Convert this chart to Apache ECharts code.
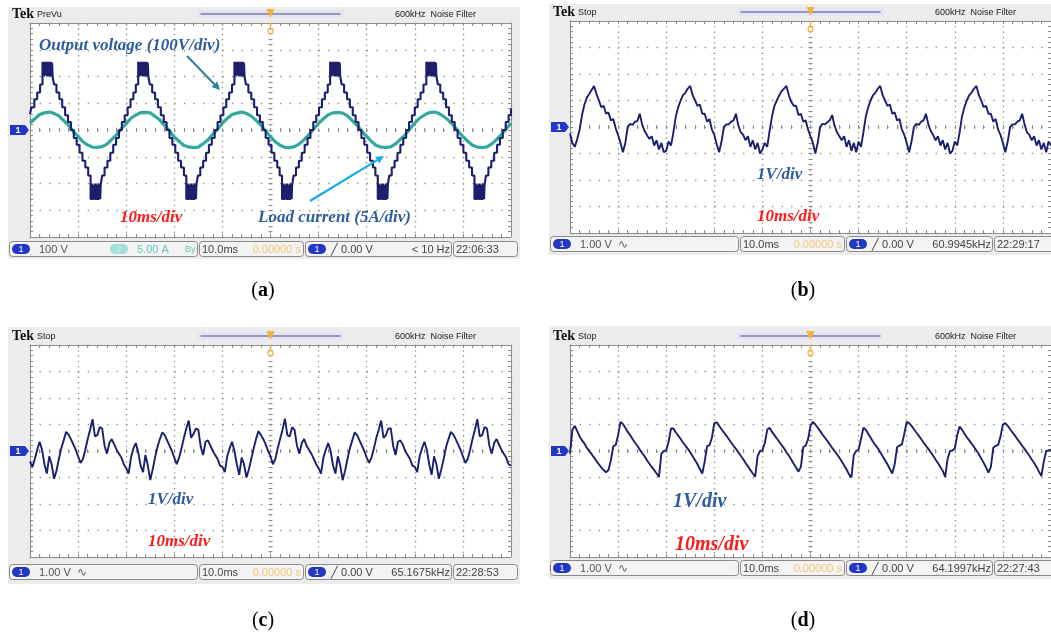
<!DOCTYPE html>
<html><head><meta charset="utf-8">
<script src="https://cdn.jsdelivr.net/npm/echarts@6/dist/echarts.min.js"></script>
<style>html,body{margin:0;padding:0;background:#fff}#c{width:1051px;height:636px}</style>
</head><body><div id="c"></div>
<script>
// ---------- DATA ----------
// (a) output voltage [time ms, volts] staircase (step), 100 V/div
const voltageA = [
[0,60],[0.3,85],[0.9,115],[1.5,140],[2.1,170],
[2.6,255],[2.7,200],[2.8,255],[2.9,200],[3.0,255],[3.1,205],[3.2,255],[3.3,205],[3.4,255],[3.5,200],[3.6,255],[3.7,200],[3.8,250],[3.9,200],[4.0,255],[4.1,200],[4.2,255],[4.3,200],[4.4,255],[4.5,200],[4.6,250],[4.7,200],
[5.0,170],[5.5,140],[6.1,115],[6.7,85],[7.3,55],[7.9,30],[8.5,0],[9.1,-30],[9.7,-55],[10.3,-85],[10.9,-115],[11.5,-140],[12.1,-170],
[12.6,-260],[12.7,-200],[12.8,-262],[12.9,-200],[13.0,-262],[13.1,-205],[13.2,-260],[13.3,-205],[13.4,-260],[13.5,-200],[13.6,-262],[13.7,-200],[13.8,-260],[13.9,-205],[14.0,-262],[14.1,-205],[14.2,-262],[14.3,-200],[14.4,-260],[14.5,-200],[14.6,-258],[14.7,-205],
[15.0,-170],[15.5,-140],[16.1,-115],[16.7,-85],[17.3,-55],[17.9,-30],[18.5,0],[19.1,30],[19.7,55],[20.3,85],[20.9,115],[21.5,140],[22.0,170],
[22.5,255],[22.6,200],[22.7,255],[22.8,200],[22.9,255],[23.0,205],[23.1,255],[23.2,205],[23.3,255],[23.4,200],[23.5,255],[23.6,200],[23.7,250],[23.8,200],[23.9,255],[24.0,200],[24.1,255],[24.2,200],[24.3,255],[24.4,200],[24.5,250],[24.6,200],
[24.9,170],[25.4,140],[26.0,115],[26.6,85],[27.2,55],[27.8,30],[28.4,0],[29.0,-30],[29.6,-55],[30.2,-85],[30.8,-115],[31.4,-140],[32.0,-170],
[32.5,-260],[32.6,-200],[32.7,-262],[32.8,-200],[32.9,-262],[33.0,-205],[33.1,-260],[33.2,-205],[33.3,-260],[33.4,-200],[33.5,-262],[33.6,-200],[33.7,-260],[33.8,-205],[33.9,-262],[34.0,-205],[34.1,-262],[34.2,-200],[34.3,-260],[34.4,-200],[34.5,-258],[34.6,-205],
[34.9,-170],[35.4,-140],[36.0,-115],[36.6,-85],[37.2,-55],[37.8,-30],[38.4,0],[39.0,30],[39.6,55],[40.2,85],[40.8,115],[41.4,140],[42.0,170],
[42.5,255],[42.6,200],[42.7,255],[42.8,200],[42.9,255],[43.0,205],[43.1,255],[43.2,205],[43.3,255],[43.4,200],[43.5,255],[43.6,200],[43.7,250],[43.8,200],[43.9,255],[44.0,200],[44.1,255],[44.2,200],[44.3,255],[44.4,200],[44.5,250],[44.6,200],
[44.9,170],[45.4,140],[46.0,115],[46.6,85],[47.2,55],[47.8,30],[48.4,0],[49.0,-30],[49.6,-55],[50.2,-85],[50.8,-115],[51.4,-140],[51.9,-170],
[52.4,-260],[52.5,-200],[52.6,-262],[52.7,-200],[52.8,-262],[52.9,-205],[53.0,-260],[53.1,-205],[53.2,-260],[53.3,-200],[53.4,-262],[53.5,-200],[53.6,-260],[53.7,-205],[53.8,-262],[53.9,-205],[54.0,-262],[54.1,-200],[54.2,-260],[54.3,-200],[54.4,-258],[54.5,-205],
[54.8,-170],[55.3,-140],[55.9,-115],[56.5,-85],[57.1,-55],[57.7,-30],[58.3,0],[58.9,30],[59.5,55],[60.1,85],[60.7,115],[61.3,140],[61.9,170],
[62.4,255],[62.5,200],[62.6,255],[62.7,200],[62.8,255],[62.9,205],[63.0,255],[63.1,205],[63.2,255],[63.3,200],[63.4,255],[63.5,200],[63.6,250],[63.7,200],[63.8,255],[63.9,200],[64.0,255],[64.1,200],[64.2,255],[64.3,200],[64.4,250],[64.5,200],
[64.8,170],[65.3,140],[65.9,115],[66.5,85],[67.1,55],[67.7,30],[68.3,0],[68.9,-30],[69.5,-55],[70.1,-85],[70.7,-115],[71.3,-140],[71.8,-170],
[72.3,-260],[72.4,-200],[72.5,-262],[72.6,-200],[72.7,-262],[72.8,-205],[72.9,-260],[73.0,-205],[73.1,-260],[73.2,-200],[73.3,-262],[73.4,-200],[73.5,-260],[73.6,-205],[73.7,-262],[73.8,-205],[73.9,-262],[74.0,-200],[74.1,-260],[74.2,-200],[74.3,-258],[74.4,-205],
[74.7,-170],[75.2,-140],[75.8,-115],[76.4,-85],[77.0,-55],[77.6,-30],[78.2,0],[78.8,30],[79.4,55],[80.0,85],[80.6,115],[81.2,140],[81.8,170],
[82.4,255],[82.5,200],[82.6,255],[82.7,200],[82.8,255],[82.9,205],[83.0,255],[83.1,205],[83.2,255],[83.3,200],[83.4,255],[83.5,200],[83.6,250],[83.7,200],[83.8,255],[83.9,200],[84.0,255],[84.1,200],[84.2,255],[84.3,200],[84.4,250],[84.5,200],
[84.8,170],[85.3,140],[85.9,115],[86.5,85],[87.1,55],[87.7,30],[88.3,0],[88.9,-30],[89.5,-55],[90.1,-85],[90.7,-115],[91.3,-140],[91.9,-170],
[92.4,-260],[92.5,-200],[92.6,-262],[92.7,-200],[92.8,-262],[92.9,-205],[93.0,-260],[93.1,-205],[93.2,-260],[93.3,-200],[93.4,-262],[93.5,-200],[93.6,-260],[93.7,-205],[93.8,-262],[93.9,-205],[94.0,-262],[94.1,-200],[94.2,-260],[94.3,-200],[94.4,-258],[94.5,-205],
[94.8,-170],[95.3,-140],[95.9,-115],[96.5,-85],[97.1,-55],[97.7,-30],[98.3,0],[98.9,30],[99.5,55],[100,80]
];
// (a) load current, A, sampled every 1 ms (5 A/div)
const currentStep = 1;
const currentA = [
1.3,2.1,2.9,3.2,3.35,3.1,2.65,1.75,0.9,-0.25,-1.2,-2.2,-2.8,-3.2,-3.25,-3.1,-2.65,-1.75,-0.9,0.25,
1.2,2.2,2.8,3.25,3.3,3.2,2.55,1.85,0.8,-0.15,-1.3,-2.1,-2.9,-3.15,-3.3,-3.2,-2.55,-1.85,-0.8,0.15,
1.3,2.15,2.9,3.15,3.35,3.1,2.6,1.8,0.9,-0.2,-1.25,-2.2,-2.85,-3.25,-3.3,-3.1,-2.6,-1.8,-0.85,0.2,
1.25,2.1,2.85,3.2,3.3,3.15,2.65,1.75,0.85,-0.25,-1.2,-2.15,-2.9,-3.2,-3.25,-3.15,-2.6,-1.75,-0.9,0.25,
1.3,2.2,2.8,3.25,3.35,3.1,2.55,1.8,0.9,-0.2,-1.25,-2.1,-2.85,-3.2,-3.3,-3.15,-2.6,-1.8,-0.85,0.2,
1.25
];
// (b)(c)(d) signals, volts, sampled every 0.5 ms (1 V/div)
const sampleStep = 0.5;
const signalB = [
-0.25,-0.6,-0.75,-0.45,-0.1,0.45,0.85,1.1,1.25,1.4,1.55,1.25,1.0,0.75,0.8,0.5,0.55,0.25,0.3,-0.05,-0.3,-0.6,-0.95,-0.6,0.0,0.12,0.08,0.2,0.22,0.5,0.1,-0.15,-0.3,-0.45,-0.35,-0.7,-0.5,-0.85,-0.6,-0.95,
-0.9,-0.55,-0.7,-0.2,0.4,0.75,1.0,1.2,1.3,1.45,1.55,1.2,1.0,0.8,0.85,0.5,0.5,0.2,0.3,-0.1,-0.3,-0.65,-0.95,-0.55,0.0,0.1,0.1,0.2,0.25,0.5,0.05,-0.2,-0.3,-0.5,-0.35,-0.75,-0.5,-0.85,-0.6,-1.0,
-0.85,-0.6,-0.75,-0.15,0.4,0.8,1.0,1.2,1.35,1.45,1.55,1.2,0.95,0.8,0.8,0.45,0.5,0.2,0.25,-0.1,-0.35,-0.6,-1.0,-0.6,0.0,0.12,0.1,0.18,0.25,0.45,0.05,-0.2,-0.35,-0.5,-0.35,-0.75,-0.5,-0.9,-0.6,
-0.95,-0.55,-0.75,-0.2,0.4,0.75,1.0,1.2,1.3,1.45,1.55,1.2,1.0,0.8,0.85,0.5,0.55,0.25,0.3,-0.1,-0.3,-0.6,-0.95,-0.55,0.0,0.12,0.08,0.2,0.25,0.5,0.1,-0.15,-0.3,-0.5,-0.35,-0.7,-0.5,-0.85,-0.6,-1.0,
-0.9,-0.55,-0.7,-0.2,0.4,0.75,1.0,1.2,1.3,1.45,1.55,1.2,1.0,0.75,0.8,0.5,0.5,0.2,0.3,-0.1,-0.3,-0.6,-0.95,-0.55,0.0,0.1,0.1,0.2,0.25,0.5,0.1,-0.2,-0.3,-0.5,-0.35,-0.7,-0.5,-0.85,-0.6,-0.95,-0.55,-0.7
];
const signalC = [
-0.4,-0.6,-0.3,0.05,0.35,0.05,-0.5,-0.85,-0.2,-0.5,-1.05,-0.75,-0.3,0.1,0.4,0.72,0.62,0.45,0.25,0.05,-0.2,-0.45,-0.3,0.05,0.45,0.8,1.2,0.55,0.6,0.9,0.85,0.2,-0.1,0.3,0.45,0.25,0.05,-0.1,-0.25,-0.5,
-0.65,-0.85,-0.25,0.1,0.3,-0.05,-0.55,-0.8,-0.15,-0.55,-1.1,-0.7,-0.25,0.15,0.45,0.7,0.6,0.4,0.2,0.0,-0.25,-0.5,-0.25,0.1,0.5,0.85,1.15,0.5,0.65,0.85,0.8,0.15,-0.15,0.35,0.4,0.2,0.0,-0.15,-0.3,-0.55,
-0.6,-0.8,-0.2,0.1,0.35,0.0,-0.5,-0.9,-0.25,-0.5,-1.0,-0.7,-0.3,0.1,0.45,0.75,0.6,0.45,0.25,0.0,-0.2,-0.5,-0.3,0.1,0.45,0.8,1.22,0.6,0.55,0.9,0.8,0.2,-0.1,0.3,0.45,0.2,0.05,-0.1,-0.3,-0.5,
-0.65,-0.85,-0.25,0.05,0.3,0.0,-0.55,-0.85,-0.2,-0.55,-1.1,-0.75,-0.3,0.1,0.4,0.7,0.6,0.4,0.2,0.0,-0.25,-0.45,-0.25,0.1,0.5,0.8,1.15,0.5,0.6,0.85,0.85,0.2,-0.15,0.35,0.4,0.25,0.0,-0.15,-0.3,-0.55,
-0.6,-0.8,-0.2,0.1,0.35,0.05,-0.5,-0.9,-0.2,-0.5,-1.05,-0.7,-0.3,0.15,0.45,0.72,0.62,0.45,0.25,0.05,-0.2,-0.45,-0.3,0.05,0.45,0.8,1.2,0.55,0.6,0.9,0.85,0.2,-0.1,0.3,0.45,0.25,0.05,-0.1,-0.25,-0.5,
-0.55
];
const signalD = [
-0.1,0.8,0.95,0.75,0.55,0.4,0.28,0.12,0.0,-0.12,-0.25,-0.38,-0.5,-0.62,-0.72,-0.8,-0.72,-0.35,0.18,0.22,
0.6,1.1,1.02,0.88,0.72,0.6,0.45,0.32,0.2,0.06,-0.08,-0.2,-0.35,-0.48,-0.6,-0.72,-0.85,-0.98,-0.1,0.0,
0.02,0.35,0.85,0.85,0.7,0.58,0.45,0.32,0.2,0.08,-0.05,-0.2,-0.35,-0.5,-0.68,-0.85,-0.4,0.18,0.22,0.5,
1.05,1.08,0.95,0.82,0.7,0.58,0.45,0.32,0.2,0.08,-0.05,-0.18,-0.3,-0.45,-0.58,-0.72,-0.85,-0.97,-0.2,0.0,
0.02,0.3,0.8,0.88,0.72,0.6,0.47,0.35,0.22,0.1,-0.05,-0.18,-0.32,-0.48,-0.62,-0.78,-0.6,0.15,0.2,0.45,
0.95,1.1,1.0,0.88,0.75,0.62,0.5,0.38,0.25,0.12,0.0,-0.12,-0.25,-0.4,-0.55,-0.7,-0.88,-1.0,-0.15,0.0,
0.05,0.45,0.88,0.8,0.65,0.5,0.35,0.22,0.1,-0.05,-0.2,-0.35,-0.5,-0.68,-0.85,-0.5,0.15,0.2,0.25,0.65,
1.1,1.05,0.95,0.82,0.7,0.58,0.45,0.32,0.2,0.08,-0.05,-0.18,-0.32,-0.45,-0.6,-0.75,-0.98,-0.3,0.0,0.02,
0.1,0.6,0.92,0.8,0.66,0.52,0.4,0.28,0.15,0.02,-0.12,-0.28,-0.45,-0.62,-0.82,-0.6,0.12,0.2,0.22,0.55,
1.0,1.05,0.95,0.82,0.7,0.58,0.45,0.33,0.2,0.08,-0.05,-0.18,-0.32,-0.45,-0.6,-0.78,-0.95,-0.4,0.0,0.02,
0.05
];
const timeTicks = [0, 100, 10];     // ms: min, max, interval (10 ms/div)
const voltTicksA = [-400, 400, 100]; // 100 V/div
const currTicksA = [-20, 20, 5];     // 5 A/div
const voltTicks = [-4, 4, 1];        // 1 V/div

// ---------- LAYOUT ----------
const panels = [
  {grid:{left:30, top:23, width:481, height:214}, frame:[8,7,512,252], mode:'PreVu', statusY:241,
   status:{ch:'100 V', ch2:'5.00 A', freq:'< 10 Hz', clock:'22:06:33'}, caption:'a', capX:263, capY:291},
  {grid:{left:570, top:21, width:481, height:212}, frame:[549,4,510,251], mode:'Stop', statusY:236,
   status:{ch:'1.00 V', freq:'60.9945kHz', clock:'22:29:17'}, caption:'b', capX:803, capY:291},
  {grid:{left:30, top:345, width:481, height:212}, frame:[8,327,512,257], mode:'Stop', statusY:564,
   status:{ch:'1.00 V', freq:'65.1675kHz', clock:'22:28:53'}, caption:'c', capX:263, capY:621},
  {grid:{left:570, top:345, width:481, height:212}, frame:[549,326,510,253], mode:'Stop', statusY:560,
   status:{ch:'1.00 V', freq:'64.1997kHz', clock:'22:27:43'}, caption:'d', capX:803, capY:621}
];

const GRAY = '#8d8d8d';
const NAVY = '#1b1f6e';
const xAxes = [], yAxes = [], grids = [], series = [], graphics = [];

function tick(inside, len){ return {show:true, inside:inside, length:len, lineStyle:{color:GRAY, width:1}}; }
function minor(len){ return {show:true, splitNumber:5, length:len, lineStyle:{color:GRAY, width:1}}; }

function addAxes(gi, g, yt){
  const dotV = [1.3, g.height/40 - 1.3];
  const dotH = [1.3, g.width/50 - 1.3];
  const bx = {gridIndex:gi, type:'value', min:timeTicks[0], max:timeTicks[1], interval:timeTicks[2],
    axisLabel:{show:false}, axisLine:{show:true, onZero:false, lineStyle:{color:GRAY, width:1}}, splitLine:{show:false}};
  const mainX = xAxes.length;
  xAxes.push(Object.assign({}, bx, {position:'bottom', axisTick:tick(true,3), minorTick:minor(3),
    splitLine:{show:true, lineStyle:{color:GRAY, width:1.3, type:dotV}}}));
  xAxes.push(Object.assign({}, bx, {position:'top', axisTick:tick(true,3), minorTick:minor(3)}));
  xAxes.push(Object.assign({}, bx, {position:'bottom', offset:-g.height/2, axisLine:{show:false}, axisTick:tick(true,2), minorTick:minor(2)}));
  xAxes.push(Object.assign({}, bx, {position:'bottom', offset:-g.height/2, axisLine:{show:false}, axisTick:tick(false,2), minorTick:minor(2)}));
  const by = {gridIndex:gi, type:'value', min:yt[0], max:yt[1], interval:yt[2],
    axisLabel:{show:false}, axisLine:{show:true, onZero:false, lineStyle:{color:GRAY, width:1}}, splitLine:{show:false}};
  const mainY = yAxes.length;
  yAxes.push(Object.assign({}, by, {position:'left', axisTick:tick(true,3), minorTick:minor(3),
    splitLine:{show:true, lineStyle:{color:GRAY, width:1.3, type:dotH}}}));
  yAxes.push(Object.assign({}, by, {position:'right', axisTick:tick(true,3), minorTick:minor(3)}));
  yAxes.push(Object.assign({}, by, {position:'left', offset:-g.width/2, axisLine:{show:false}, axisTick:tick(true,2), minorTick:minor(2)}));
  yAxes.push(Object.assign({}, by, {position:'left', offset:-g.width/2, axisLine:{show:false}, axisTick:tick(false,2), minorTick:minor(2)}));
  return {x:mainX, y:mainY};
}

function T(x, y, text, font, fill, align, v, z){
  return {type:'text', x:x, y:y, z:z||60, silent:true,
    style:{text:text, font:font, fill:fill, textAlign:align||'left', textVerticalAlign:v||'middle', align:align||'left', verticalAlign:v||'middle'}};
}
function R(x, y, w, h, fill, stroke, r, z){
  return {type:'rect', z:z||50, silent:true, shape:{x:x, y:y, width:w, height:h, r:r||0},
    style:{fill:fill, stroke:stroke||null, lineWidth:1}};
}
function pill(x, y, w, h, fill, label, col){
  return [R(x, y, w, h, fill, null, h/2, 55), T(x + w/2, y + h/2 + 0.5, label, '9px "Liberation Sans"', col, 'center', 'middle', 56)];
}
const SF = '11px "Liberation Sans Narrow", "Liberation Sans", sans-serif';

function chrome(p, idx){
  const g = p.grid, f = p.frame, cx = g.left + g.width/2, cy = g.top + g.height/2;
  graphics.push(R(f[0], f[1], f[2], f[3], '#ececec', null, 0, -20));
  graphics.push(R(g.left, g.top, g.width, g.height, '#ffffff', null, 0, -19));
  // header
  graphics.push(T(f[0] + 4, g.top - 9, 'Tek', 'bold 14px "Liberation Serif"', '#111', 'left', 'middle'));
  graphics.push(T(f[0] + 29, g.top - 8.5, p.mode, '9px "Liberation Sans Narrow", "Liberation Sans"', '#222', 'left', 'middle'));
  graphics.push(R(cx - 73, g.top - 13, 146, 8, '#e4e4f2', null, 0, 50));
  graphics.push({type:'line', z:51, silent:true, shape:{x1:cx - 70, y1:g.top - 9, x2:cx + 70, y2:g.top - 9}, style:{stroke:'#7c7fa8', lineWidth:1.5}});
  graphics.push({type:'polygon', z:52, silent:true, shape:{points:[[cx - 4, g.top - 14], [cx + 4, g.top - 14], [cx, g.top - 5]]}, style:{fill:'#f2b23c'}});
  graphics.push({type:'circle', z:52, silent:true, shape:{cx:cx, cy:g.top + 8, r:2.5}, style:{fill:'none', stroke:'#f2b23c', lineWidth:1.2}});
  graphics.push({type:'line', z:52, silent:true, shape:{x1:cx, y1:g.top, x2:cx, y2:g.top + 5}, style:{stroke:'#f2b23c', lineWidth:1.5}});
  graphics.push(T(g.left + 365, g.top - 8, '600kHz  Noise Filter', '9px "Liberation Sans Narrow", "Liberation Sans"', '#222', 'left', 'middle'));
  // channel 1 ground tag
  graphics.push({type:'polygon', z:55, silent:true, shape:{points:[[f[0] + 2, cy - 5], [g.left - 5, cy - 5], [g.left - 1, cy], [g.left - 5, cy + 5], [f[0] + 2, cy + 5]]}, style:{fill:'#2337c4'}});
  graphics.push(T(f[0] + 10, cy + 0.5, '1', 'bold 9px "Liberation Sans"', '#fff', 'center', 'middle', 56));
  // status bar
  const sy = p.statusY, sh = 15, s = p.status, x0 = f[0];
  const b1 = [x0 + 1, x0 + 190], b2 = [x0 + 191, x0 + 296], b3 = [x0 + 297, x0 + 444], b4 = [x0 + 445, x0 + 510];
  [b1, b2, b3, b4].forEach(b => graphics.push(R(b[0] + 0.5, sy + 0.5, b[1] - b[0] - 1, sh, '#f3f3f3', '#8a8a8a', 3, 50)));
  pill(b1[0] + 3, sy + 3, 18, 10, '#2337c4', '1', '#fff').forEach(e => graphics.push(e));
  graphics.push(T(b1[0] + 30, sy + 8.5, s.ch, SF, '#555', 'left', 'middle'));
  if (s.ch2) {
    pill(b1[0] + 101, sy + 3, 18, 10, '#9ee0dc', '2', '#d8f4f2').forEach(e => graphics.push(e));
    graphics.push(T(b1[0] + 128, sy + 8.5, s.ch2, SF, '#66c8c2', 'left', 'middle'));
    graphics.push(T(b1[0] + 176, sy + 8.5, 'By', '9px "Liberation Sans Narrow", "Liberation Sans"', '#66c8c2', 'left', 'middle'));
  } else {
    graphics.push(T(b1[0] + 68, sy + 8.5, '\u223F', '12px "DejaVu Sans"', '#666', 'left', 'middle'));
  }
  graphics.push(T(b2[0] + 3, sy + 8.5, '10.0ms', SF, '#444', 'left', 'middle'));
  graphics.push(T(b2[1] - 3, sy + 8.5, '0.00000 s', SF, '#f0c878', 'right', 'middle'));
  pill(b3[0] + 3, sy + 3, 18, 10, '#2337c4', '1', '#fff').forEach(e => graphics.push(e));
  graphics.push(T(b3[0] + 26, sy + 8.5, '\u2571 0.00 V', SF, '#444', 'left', 'middle'));
  graphics.push(T(b3[1] - 2, sy + 8.5, s.freq, SF, '#444', 'right', 'middle'));
  graphics.push(T(b4[0] + 3, sy + 8.5, s.clock, SF, '#444', 'left', 'middle'));
  // caption
  graphics.push({type:'text', x:p.capX, y:p.capY, z:60, silent:true, style:{
    text:'{n|(}{b|' + p.caption + '}{n|)}', textAlign:'center', textVerticalAlign:'middle', align:'center', verticalAlign:'middle',
    rich:{n:{fontFamily:'"Liberation Serif", "DejaVu Serif", serif', fontSize:20, fill:'#000', color:'#000'},
          b:{fontFamily:'"Liberation Serif", "DejaVu Serif", serif', fontSize:20, fontWeight:'bold', fill:'#000', color:'#000'}}}});
}

panels.forEach((p, i) => {
  grids.push({left:p.grid.left, top:p.grid.top, width:p.grid.width, height:p.grid.height, show:false});
  chrome(p, i);
});

// axes + series
const axA = addAxes(0, panels[0].grid, voltTicksA);
const curY = yAxes.length;
yAxes.push({gridIndex:0, type:'value', min:currTicksA[0], max:currTicksA[1], interval:currTicksA[2], show:false});
series.push({type:'line', xAxisIndex:axA.x, yAxisIndex:curY, showSymbol:false, animation:false, z:3,
  data: currentA.map((v, i) => [i * currentStep, v]),
  lineStyle:{color:'#2aa397', width:3.2, opacity:0.95}});
series.push({type:'line', xAxisIndex:axA.x, yAxisIndex:axA.y, showSymbol:false, animation:false, step:'end', z:4,
  data: voltageA, lineStyle:{color:NAVY, width:2.1}});

[signalB, signalC, signalD].forEach((sig, k) => {
  const ax = addAxes(k + 1, panels[k + 1].grid, voltTicks);
  series.push({type:'line', xAxisIndex:ax.x, yAxisIndex:ax.y, showSymbol:false, animation:false, z:4,
    data: sig.map((v, i) => [i * sampleStep, v]), lineStyle:{color:NAVY, width:1.9}});
});

// annotations
const ANN = 'italic bold 17px "Liberation Serif"';
const BLUE = '#2f5c9c', RED = '#ff1a1a';
graphics.push(T(39, 46, 'Output voltage (100V/div)', ANN, BLUE));
graphics.push(T(258, 218, 'Load current (5A/div)', ANN, BLUE));
graphics.push(T(120, 218, '10ms/div', ANN, RED));
graphics.push(T(757, 175, '1V/div', ANN, BLUE));
graphics.push(T(757, 217, '10ms/div', ANN, RED));
graphics.push(T(148, 500, '1V/div', ANN, BLUE));
graphics.push(T(148, 542, '10ms/div', ANN, RED));
graphics.push(T(673, 502, '1V/div', 'italic bold 20px "Liberation Serif"', BLUE));
graphics.push(T(675, 545, '10ms/div', 'italic bold 20px "Liberation Serif"', RED));
function arrow(x1, y1, x2, y2, col, w){
  const a = Math.atan2(y2 - y1, x2 - x1), L = 8, W = 4;
  const bx = x2 - L * Math.cos(a), by = y2 - L * Math.sin(a);
  graphics.push({type:'line', z:58, silent:true, shape:{x1:x1, y1:y1, x2:bx, y2:by}, style:{stroke:col, lineWidth:w}});
  graphics.push({type:'polygon', z:58, silent:true, shape:{points:[[x2, y2],
    [bx + W * Math.sin(a), by - W * Math.cos(a)], [bx - W * Math.sin(a), by + W * Math.cos(a)]]}, style:{fill:col}});
}
arrow(187, 56, 220, 90, '#2e8096', 2);
arrow(310, 201, 384, 156, '#12aee8', 2.2);

const chart = echarts.init(document.getElementById('c'), null, {renderer:'canvas'});
chart.setOption({animation:false, backgroundColor:'#ffffff', grid:grids, xAxis:xAxes, yAxis:yAxes, series:series, graphic:{elements:graphics}});
</script></body></html>
